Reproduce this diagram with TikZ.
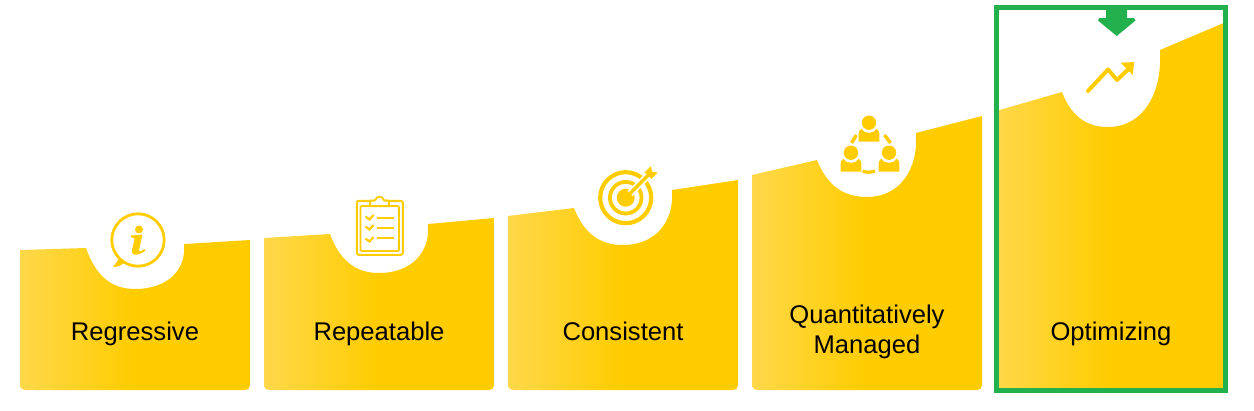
\documentclass[tikz,border=0pt]{standalone}
\usepackage{fontspec}
\setmainfont{Liberation Sans}
\definecolor{gold}{HTML}{FFCC00}
\definecolor{goldlight}{HTML}{FFD84A}
\definecolor{framegreen}{HTML}{22B14C}
\pgfdeclarehorizontalshading{cardgrad}{100bp}{color(0bp)=(goldlight); color(25bp)=(goldlight); color(50bp)=(gold); color(100bp)=(gold)}
% x0, yL, xa, ya, xb, yb, xc, yc, yR
\newcommand\stepcard[9]{%
  \path[cardfill] (#1,#2) -- (#3,#4)
    .. controls ({#3+0.2*(#5-#3)},{#4+0.68*(#6-#4)}) and ({#3+0.52*(#5-#3)},#6) .. (#5,#6)
    .. controls ({#5+0.66*(#7-#5)},#6) and ({#7+0.05*(#7-#5)},{#8+0.58*(#6-#8)}) .. (#7,#8)
    -- ({#1+230},#9) -- ({#1+230},384)
    .. controls ({#1+230},388) and ({#1+228},390) .. ({#1+224},390)
    -- ({#1+6},390) .. controls ({#1+2},390) and (#1,388) .. (#1,384) -- cycle;
}
\tikzset{
  cardfill/.style={shade,shading=cardgrad},
  cardlabel/.style={text=black,inner sep=0pt,align=center,anchor=base,font=\fontsize{25.6}{30}\selectfont},
  iconline/.style={draw=gold,line width=2.8pt,fill=none},
  iconthin/.style={draw=gold,line width=2pt,fill=none},
  iconfill/.style={fill=gold,draw=none},
  gapline/.style={draw=white,line width=2pt}
}
\begin{document}
\begin{tikzpicture}[x=1pt,y=-1pt]
\useasboundingbox (0,0) rectangle (1254,410);
% cards
\stepcard{20}{250}{86}{248}{135}{289}{184}{244}{240}
\stepcard{264}{238}{330}{234}{379}{273}{428}{224}{218}
\stepcard{508}{216}{574}{208}{623}{245}{672}{190}{180}
\stepcard{752}{175}{817}{160}{867}{197}{916}{133}{116}
\stepcard{996}{111}{1062}{92}{1108}{127}{1160}{50}{22}
% labels
\node[cardlabel] (lab1) at (135,340) {Regressive};
\node[cardlabel] (lab2) at (379,340) {Repeatable};
\node[cardlabel] (lab3) at (623,340) {Consistent};
\node[cardlabel] (lab4a) at (867,323.5) {Quantitatively};
\node[cardlabel] (lab4b) at (867,353.5) {Managed};
\node[cardlabel] (lab5) at (1111,340) {Optimizing};
% info icon
\draw[iconline] (138,240) circle (26.2);
\path[iconfill] (113,267) -- (119.5,258) -- (124,263) .. controls (120,266) and (117,267) .. (113,267) -- cycle;
\path[iconfill] (139,229.5) circle (4);
\path[iconfill] (131,235.5) -- (142.5,234.5) -- (139,250) .. controls (138.5,251.8) and (139.5,252) .. (141.5,250.8)
  -- (144.5,249) -- (145,251) .. controls (141,254) and (137,255) .. (134,254.5)
  .. controls (132,254) and (131.5,252) .. (132,250) -- (134.5,239) .. controls (134.5,238) and (133.5,237.5) .. (131,237.5) -- cycle;
% clipboard icon
\draw[iconthin,rounded corners=2pt] (356.8,200.8) rectangle (402.8,254.8);
\draw[iconthin,line width=1.6pt,rounded corners=1pt] (360.5,206) rectangle (399,251);
\path[fill=white,draw=gold,line width=2pt,rounded corners=1pt] (370,206) -- (370,200.5) -- (375.5,200.5)
  .. controls (376,196) and (383,196) .. (383.5,200.5) -- (389,200.5) -- (389,206) -- cycle;
\foreach \yy in {218,228,240}{
  \draw[iconthin,line width=2.2pt] (365.5,\yy-1.5) -- (369.5,\yy+1.5) -- (373.5,\yy-3);
}
\foreach \yy in {218,228,238}{
  \draw[iconthin,line width=1.6pt] (377,\yy) -- (394,\yy);
}
% target icon
\draw[draw=gold,line width=4.2pt] (625.7,197.7) circle (25.5);
\draw[draw=gold,line width=3.8pt] (625.7,197.7) circle (15.8);
\path[iconfill] (625.7,197.7) circle (9);
\draw[gapline,line width=7pt] (630,193.5) -- (648,175.5);
\draw[draw=gold,line width=3.4pt] (626,197.5) -- (648,175.5);
\path[iconfill] (644.5,172.5) -- (651,166) -- (652,171.5) -- (657.7,172.7) -- (651.5,179) -- (648.5,176) -- cycle;
% people icon
\foreach \hx/\hy in {869/122.7,851/152.7,889/152.7}{
  \path[iconfill] (\hx-10.4,\hy+19) -- (\hx-10.4,\hy+13) .. controls (\hx-10.4,\hy+9) and (\hx-9.5,\hy+7) .. (\hx-7.8,\hy+6)
    .. controls (\hx-5,\hy+11.5) and (\hx+5,\hy+11.5) .. (\hx+7.8,\hy+6)
    .. controls (\hx+9.5,\hy+7) and (\hx+10.4,\hy+9) .. (\hx+10.4,\hy+13) -- (\hx+10.4,\hy+19) -- cycle;
  \path[iconfill] (\hx,\hy) circle (7.2);
}
\draw[draw=gold,line width=3.4pt] (851.5,143) -- (856.5,135);
\draw[draw=gold,line width=3.4pt] (884.5,135) -- (890.5,143);
\draw[draw=gold,line width=3.2pt] (862.5,171) .. controls (866,172.6) and (871,172.6) .. (875,171);
% trend arrow icon
\draw[draw=gold,line width=4pt,line cap=round,line join=round] (1088,91) -- (1108,69.5) -- (1117,80) -- (1128,69.5);
\path[iconfill] (1120.7,62.7) -- (1134.2,62) -- (1132.7,75) -- cycle;
% frame
\draw[draw=framegreen,line width=5pt] (996.5,7.5) rectangle (1225.5,390.5);
\path[fill=framegreen] (1106,5) -- (1127,5) -- (1127,18) -- (1134,18) -- (1135.5,20.5) -- (1116.7,36) -- (1098,20.5) -- (1099.5,18) -- (1106,18) -- cycle;
\end{tikzpicture}
\end{document}
